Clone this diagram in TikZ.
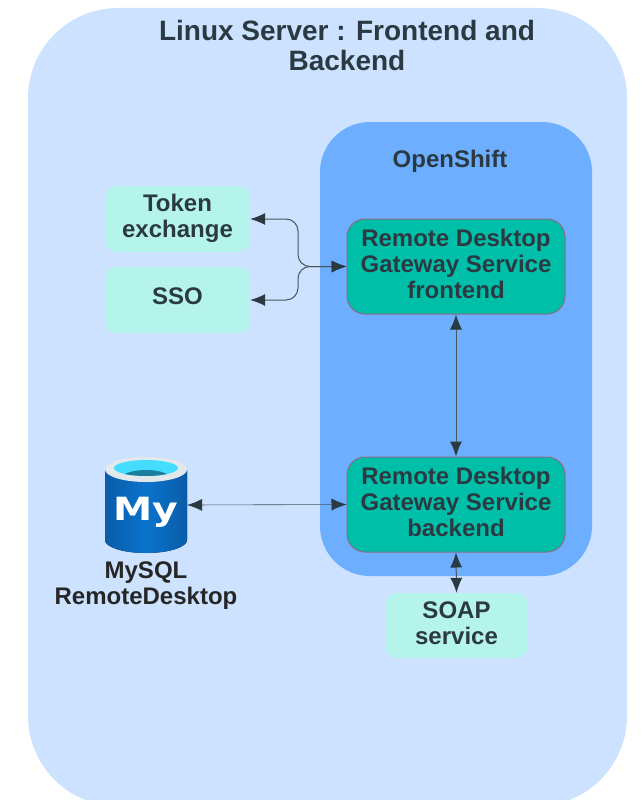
\documentclass[tikz,border=0pt]{standalone}
\usepackage{fontspec}
\usepackage{graphicx}
\setmainfont{Liberation Sans}
\newfontfamily\logofont{DejaVu Sans}
\usetikzlibrary{arrows.meta}
\definecolor{serverblue}{HTML}{CCE2FF}
\definecolor{shiftblue}{HTML}{6DAEFF}
\definecolor{serviceteal}{HTML}{00BFA8}
\definecolor{servicerim}{HTML}{8C6A86}
\definecolor{extmint}{HTML}{B5F4EA}
\definecolor{inkdark}{HTML}{2B3A42}
\definecolor{linkgrey}{HTML}{4A5560}
\definecolor{dbdark}{HTML}{0A5CA8}
\definecolor{dbmid}{HTML}{0A74CC}
\definecolor{dbrim}{HTML}{E2E8EC}
\definecolor{dbpool}{HTML}{45DDFF}
\definecolor{dbdeep}{HTML}{1A7F9C}
\tikzset{
	service/.style={draw=servicerim, line width=1pt, fill=serviceteal, rounded corners=18, minimum width=218, minimum height=95, align=center, text=inkdark, text depth=6pt, font=\fontsize{24}{26}\selectfont\bfseries, inner sep=0pt},
	external/.style={fill=extmint, rounded corners=12, minimum height=66, align=center, text=inkdark, text depth=7pt, font=\fontsize{24}{26}\selectfont\bfseries, inner sep=0pt},
	link/.style={draw=linkgrey, line width=1pt, {Latex[length=15,width=12,color=inkdark]}-{Latex[length=15,width=12,color=inkdark]}},
}
\begin{document}
\begin{tikzpicture}[x=1pt,y=-1pt]
	\useasboundingbox (0,0) rectangle (641,800);
	\begin{scope}
		\clip (0,0) rectangle (641,800);
		\fill[serverblue, rounded corners=90] (28,8) rectangle (627,806);
	\end{scope}
	\fill[shiftblue, rounded corners=50] (320,122) rectangle (592,576);
	\node[text=inkdark, align=center, font=\fontsize{28}{30}\selectfont\bfseries] (title) at (347,45) {Linux Server : Frontend and\\Backend};
	\node[text=inkdark, font=\fontsize{24}{26}\selectfont\bfseries] (openshift) at (450,161.5) {OpenShift};
	\node[service] (frontend) at (456,266.5) {Remote Desktop\\Gateway Service\\frontend};
	\node[service] (backend) at (456,504.5) {Remote Desktop\\Gateway Service\\backend};
	\node[external, minimum width=145] (token) at (177.5,219) {Token\\exchange};
	\node[external, minimum width=145] (sso) at (177.5,300) {SSO};
	\node[external, minimum width=143, minimum height=65, text depth=4pt] (soap) at (456.5,625.5) {SOAP\\service};
	% database drum
	\fill[left color=dbdark, right color=dbdark, middle color=dbmid] (105,470) -- (105,540) arc[start angle=180, end angle=0, x radius=41, y radius=13] -- (187,470) -- cycle;
	\fill[dbrim] (146,469.5) ellipse[x radius=41, y radius=12.5];
	\fill[dbpool] (146,468) ellipse[x radius=32, y radius=8];
	\begin{scope}
		\clip (146,468) ellipse[x radius=32, y radius=8];
		\fill[dbdeep] (146,478) ellipse[x radius=24, y radius=8];
	\end{scope}
	\node[text=white, minimum width=82, minimum height=96, inner sep=0pt, font=\logofont\fontsize{32}{32}\selectfont\bfseries] (mysql) at (146,505) {\raisebox{-15pt}[0pt][0pt]{\scalebox{1.23}[1]{My}}};
	\node[text=black!85, align=center, font=\fontsize{24}{26}\selectfont\bfseries] (mysqllabel) at (146,586) {MySQL\\RemoteDesktop};
	\coordinate (split) at (298,266.5);
	\draw[link, rounded corners=12] (token.east) -| (split) -- (frontend.west);
	\draw[link, rounded corners=12] (sso.east) -| (split) -- (frontend.west);
	\draw[link] (frontend.south) -- (backend.north);
	\draw[link, line width=0.6pt] (mysql.east) -- (backend.west);
	\draw[link] (backend.south) -- (soap.north);
\end{tikzpicture}
\end{document}
